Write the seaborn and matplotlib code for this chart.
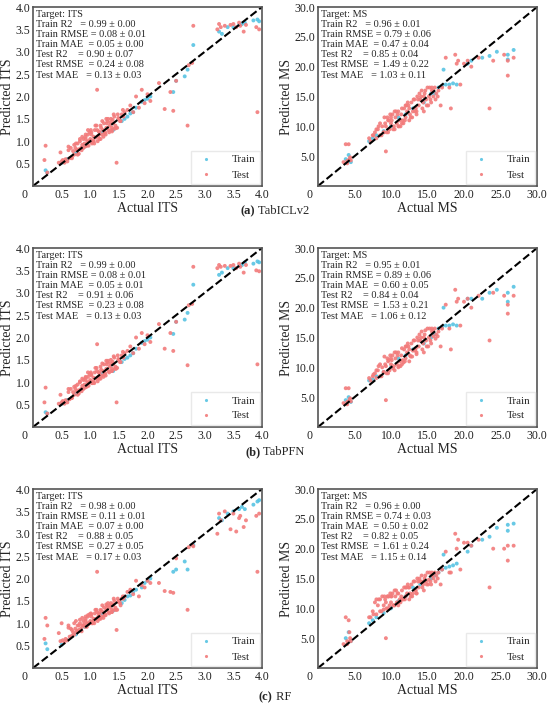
import numpy as np
import pandas as pd
import matplotlib
matplotlib.use("Agg")
import matplotlib.pyplot as plt
import seaborn as sns


# ---------------- data ----------------
models = ["TabICLv2", "TabPFN", "RF"]
letters = ["(a)", "(b)", "(c)"]
metric_names = ["Train R2", "Train RMSE", "Train MAE", "Test R2", "Test RMSE", "Test MAE"]

# metric mean / std per model and target
its_means = [[0.99, 0.08, 0.05, 0.90, 0.24, 0.13],
             [0.99, 0.08, 0.05, 0.91, 0.23, 0.13],
             [0.98, 0.11, 0.07, 0.88, 0.27, 0.17]]
its_stds = [[0.00, 0.01, 0.00, 0.07, 0.08, 0.03],
            [0.00, 0.01, 0.01, 0.06, 0.08, 0.03],
            [0.00, 0.01, 0.00, 0.05, 0.05, 0.03]]
ms_means = [[0.96, 0.79, 0.47, 0.85, 1.49, 1.03],
            [0.95, 0.89, 0.60, 0.84, 1.53, 1.06],
            [0.96, 0.74, 0.50, 0.82, 1.61, 1.15]]
ms_stds = [[0.01, 0.06, 0.04, 0.04, 0.22, 0.11],
           [0.01, 0.06, 0.05, 0.04, 0.21, 0.12],
           [0.00, 0.03, 0.02, 0.05, 0.24, 0.14]]

# ITS - test points
its_test_x = [0.20, 0.22, 0.25, 0.45, 0.48, 0.50, 0.52, 0.55, 0.57, 0.60, 0.62, 0.64, 0.66, 0.68,
              0.70, 0.72, 0.74, 0.76, 0.78, 0.80, 0.82, 0.84, 0.86, 0.88,
              0.90, 0.92, 0.94, 0.96, 0.98, 1.00, 1.02, 1.04, 1.06, 1.08,
              1.10, 1.12, 1.14, 1.16, 1.18, 1.20, 1.22, 1.24, 1.26, 1.28,
              1.30, 1.32, 1.34, 1.36, 1.38, 1.40, 1.42, 1.44, 1.46, 1.48,
              1.50, 1.52, 1.55, 1.58, 1.60, 0.85, 0.95, 1.05, 1.15, 1.25,
              1.35, 1.45, 0.92, 1.02, 1.12,
              1.65, 1.70, 1.75, 1.80, 1.85, 1.90, 1.95, 2.00, 2.05, 2.20, 2.30, 2.40, 2.45, 2.50, 2.70, 2.72, 2.78, 2.80,
              3.22, 3.25, 3.28, 3.35, 3.45, 3.50, 3.55, 3.60, 3.62, 3.68, 3.72, 3.90, 3.92, 3.95,
              0.62, 0.68, 0.72, 0.78, 0.82, 0.88, 0.92, 0.97, 1.01, 1.06,
              1.11, 1.16, 1.21, 1.27, 1.31, 1.37, 1.41, 1.47, 1.53, 1.57,
              0.75, 0.80, 0.86, 0.91, 0.99, 1.03, 1.09, 1.13, 1.19, 1.23,
              1.29, 1.33, 1.39, 1.43, 1.49, 0.96, 1.07, 1.18, 1.28, 1.38]
its_test_tabicl = [0.58, 0.90, 0.30, 0.52, 0.75, 0.55, 0.58, 0.52, 0.60, 0.55, 0.88, 0.62, 0.85, 0.65,
                   0.78, 0.70, 0.85, 0.80, 0.95, 0.82, 1.00, 0.85, 0.92, 1.05,
                   0.95, 1.10, 0.90, 1.15, 1.00, 1.05, 1.20, 0.98, 1.10, 1.25,
                   1.08, 2.15, 1.12, 1.20, 1.35, 1.15, 1.25, 1.40, 1.20, 1.30,
                   1.45, 1.25, 1.35, 1.50, 1.30, 1.40, 1.55, 1.35, 0.52, 1.60,
                   1.50, 1.45, 1.60, 1.55, 1.65, 0.80, 1.00, 1.02, 1.22, 1.18,
                   1.42, 1.30, 1.05, 1.15, 1.25,
                   1.70, 1.80, 1.65, 2.00, 1.75, 2.15, 1.85, 2.05, 1.90, 2.30, 1.72, 2.10, 1.68, 2.35, 1.35, 2.70, 2.75, 3.58,
                   3.50, 3.62, 3.55, 3.58, 3.60, 3.62, 3.55, 3.65, 3.58, 3.45, 3.60, 3.55, 1.65, 3.50,
                   0.80, 0.62, 0.92, 0.70, 1.05, 0.85, 1.15, 0.90, 1.25, 1.00,
                   1.35, 1.05, 1.45, 1.15, 1.50, 1.25, 1.60, 1.30, 1.45, 1.70,
                   0.95, 0.72, 1.10, 0.88, 1.20, 0.95, 1.35, 1.00, 1.30, 1.10,
                   1.40, 1.20, 1.48, 1.28, 1.52, 1.25, 0.95, 1.05, 1.50, 1.22]
its_test_tabpfn = [0.55, 0.88, 0.30, 0.52, 0.72, 0.55, 0.58, 0.52, 0.60, 0.55, 0.85, 0.62, 0.85, 0.65,
                   0.78, 0.72, 0.85, 0.80, 0.95, 0.82, 1.00, 0.85, 0.92, 1.05,
                   0.95, 1.10, 0.90, 1.12, 1.00, 1.05, 1.18, 0.98, 1.10, 1.22,
                   1.08, 1.85, 1.12, 1.20, 1.35, 1.15, 1.25, 1.40, 1.20, 1.30,
                   1.45, 1.25, 1.35, 1.50, 1.30, 1.40, 1.55, 1.35, 0.55, 1.60,
                   1.50, 1.45, 1.60, 1.55, 1.65, 0.80, 1.00, 1.02, 1.22, 1.18,
                   1.42, 1.30, 1.05, 1.15, 1.25,
                   1.70, 1.80, 1.65, 2.00, 1.75, 2.10, 1.85, 2.05, 1.90, 2.30, 1.75, 2.10, 1.70, 2.35, 1.38, 2.72, 2.75, 3.58,
                   3.55, 3.62, 3.58, 3.60, 3.60, 3.62, 3.55, 3.65, 3.58, 3.45, 3.62, 3.50, 1.40, 3.48,
                   0.78, 0.65, 0.90, 0.72, 1.02, 0.85, 1.12, 0.92, 1.22, 1.00,
                   1.32, 1.08, 1.42, 1.15, 1.48, 1.25, 1.58, 1.32, 1.45, 1.68,
                   0.92, 0.75, 1.08, 0.88, 1.18, 0.98, 1.32, 1.02, 1.28, 1.12,
                   1.40, 1.22, 1.46, 1.30, 1.52, 1.22, 0.98, 1.08, 1.48, 1.25]
its_test_rf = [0.65, 1.12, 0.95, 0.78, 0.60, 1.00, 0.62, 0.58, 0.65, 0.62, 0.90, 0.70, 0.88, 0.72,
               0.80, 0.75, 0.88, 0.82, 0.95, 0.85, 1.00, 0.88, 0.95, 1.05,
               0.98, 1.10, 0.92, 1.15, 1.00, 1.05, 1.20, 1.00, 1.10, 1.22,
               1.10, 2.15, 1.15, 1.20, 1.30, 1.15, 1.25, 1.35, 1.20, 1.30,
               1.40, 1.25, 1.35, 1.45, 1.30, 1.40, 1.50, 1.35, 0.85, 1.55,
               1.50, 1.45, 1.55, 1.55, 1.60, 0.82, 1.00, 1.05, 1.22, 1.18,
               1.40, 1.30, 1.05, 1.15, 1.25,
               1.70, 1.75, 1.65, 1.95, 1.60, 1.85, 1.80, 1.95, 1.90, 1.90, 1.72, 1.70, 1.68, 2.45, 1.30, 2.70, 2.75, 2.72,
               3.00, 3.45, 3.30, 3.50, 3.10, 3.45, 3.05, 3.35, 3.40, 3.15, 3.30, 3.40, 2.15, 3.45,
               0.95, 0.85, 1.00, 0.82, 1.08, 0.95, 1.15, 0.98, 1.22, 1.05,
               1.30, 1.10, 1.40, 1.18, 1.45, 1.25, 1.55, 1.30, 1.40, 1.60,
               1.05, 0.95, 1.12, 0.92, 1.20, 1.00, 1.30, 1.05, 1.28, 1.12,
               1.35, 1.22, 1.42, 1.30, 1.48, 1.18, 1.00, 1.10, 1.42, 1.25]

# ITS - train points
its_train_x = [0.22, 0.25, 0.50, 0.60, 0.75, 0.90, 1.00, 1.20, 1.40, 1.55, 1.60, 1.65, 1.70, 1.75, 1.80, 1.90, 1.95,
               2.00, 2.05, 2.45, 2.50, 2.65, 2.70, 2.80, 3.25, 3.30, 3.40, 3.50, 3.60, 3.65, 3.70, 3.85, 3.92, 3.95]
its_train_tabicl = [0.35, 0.30, 0.52, 0.60, 0.75, 0.90, 1.00, 1.20, 1.25, 1.45, 1.50, 1.55, 1.62, 1.65, 1.75, 1.88, 1.92,
                    1.95, 2.00, 2.10, 2.35, 2.45, 2.60, 3.15, 3.45, 3.40, 3.55, 3.55, 3.60, 3.62, 3.65, 3.70, 3.72, 3.68]
its_train_tabpfn = [0.33, 0.30, 0.52, 0.60, 0.75, 0.90, 1.00, 1.20, 1.25, 1.45, 1.52, 1.55, 1.60, 1.65, 1.75, 1.88, 1.92,
                    1.95, 2.00, 2.08, 2.35, 2.40, 2.55, 3.18, 3.40, 3.45, 3.55, 3.55, 3.60, 3.62, 3.68, 3.65, 3.70, 3.68]
its_train_rf = [0.55, 0.42, 0.52, 0.62, 0.75, 0.92, 1.02, 1.22, 1.28, 1.45, 1.52, 1.60, 1.62, 1.70, 1.75, 1.80, 1.90,
                1.95, 2.00, 2.15, 2.20, 2.38, 2.20, 2.75, 3.35, 3.30, 3.45, 3.50, 3.55, 3.60, 3.55, 3.65, 3.72, 3.75]

# MS - test points
ms_test_x = [3.5, 3.8, 4.0, 4.2, 4.3, 4.5, 4.0, 4.4,
             7.0, 7.2, 7.5, 7.8, 8.0, 8.2, 8.5, 8.8, 9.0, 9.2,
             9.4, 9.6, 9.8, 10.0, 10.2, 10.4, 10.6, 10.8, 11.0, 11.2,
             11.4, 11.6, 11.8, 12.0, 12.2, 12.4, 12.6, 12.8, 13.0, 13.2,
             13.4, 13.6, 13.8, 14.0, 14.2, 14.4, 14.6, 14.8, 15.0, 15.2,
             15.4, 15.6, 15.8, 16.0, 16.2, 16.5, 16.8, 17.0, 8.5, 9.5,
             10.5, 11.5, 12.5, 13.5, 14.5, 15.5, 9.0, 10.0, 11.0, 12.0,
             17.5, 18.0, 18.2, 18.8, 19.0, 19.2, 19.5, 20.0, 20.5, 21.0,
             22.0, 23.5, 24.0, 25.5, 26.0, 26.0, 26.8, 9.3,
             8.3, 8.7, 9.1, 9.6, 9.9, 10.3, 10.7, 11.1, 11.5, 11.9,
             12.3, 12.7, 13.1, 13.5, 13.9, 14.3, 14.7, 15.1, 15.6, 16.1,
             8.0, 9.3, 10.1, 10.9, 11.7, 12.5, 13.3, 14.1, 14.9, 15.7,
             9.7, 10.5, 11.3, 12.1, 12.9, 13.7, 14.5, 15.3, 16.4, 7.6]
ms_test_tabicl = [4.0, 7.0, 4.2, 7.0, 4.5, 4.3, 3.8, 4.8,
                  8.0, 7.5, 8.5, 9.0, 8.0, 9.5, 8.5, 10.0, 9.0, 10.5,
                  9.0, 11.0, 9.5, 10.5, 12.0, 10.0, 11.5, 10.5, 12.5, 11.0,
                  12.0, 11.0, 13.0, 11.5, 12.5, 13.5, 12.0, 14.0, 12.5, 14.5,
                  13.0, 15.0, 13.5, 14.5, 16.0, 14.0, 15.5, 14.5, 16.5, 15.0,
                  14.5, 16.0, 15.0, 16.5, 15.5, 16.0, 13.5, 16.5, 10.5, 11.5,
                  9.5, 10.5, 11.0, 12.5, 15.0, 14.0, 9.0, 11.5, 10.0, 13.5,
                  21.5, 16.5, 13.0, 22.0, 20.5, 21.0, 17.0, 20.5, 21.0, 20.0,
                  21.5, 13.0, 21.0, 22.0, 21.0, 18.5, 21.5, 5.8,
                  10.0, 8.5, 11.5, 9.0, 12.0, 9.5, 12.5, 10.0, 13.0, 11.0,
                  14.0, 11.5, 14.5, 12.0, 15.5, 13.0, 16.0, 13.5, 16.5, 14.5,
                  9.5, 10.0, 11.0, 12.0, 10.5, 13.0, 12.5, 15.0, 13.5, 16.0,
                  11.0, 12.5, 10.0, 13.5, 11.5, 14.5, 12.5, 16.5, 15.0, 8.5]
ms_test_tabpfn = [4.0, 6.5, 4.2, 6.5, 4.5, 4.3, 3.8, 4.8,
                  8.2, 7.8, 8.5, 9.0, 8.2, 9.5, 8.5, 10.0, 9.2, 10.5,
                  9.0, 11.0, 9.5, 10.5, 12.0, 10.2, 11.5, 10.5, 12.5, 11.0,
                  12.0, 11.2, 13.0, 11.5, 12.5, 13.5, 12.0, 14.0, 12.8, 14.5,
                  13.2, 15.0, 13.5, 14.5, 16.0, 14.0, 15.5, 14.5, 16.5, 15.0,
                  14.5, 16.0, 15.2, 16.5, 15.5, 16.0, 13.5, 16.5, 10.5, 11.5,
                  9.5, 10.5, 11.0, 12.5, 15.0, 14.0, 9.2, 11.5, 10.0, 13.5,
                  20.5, 16.5, 13.0, 23.0, 21.0, 21.5, 17.0, 21.0, 21.5, 20.0,
                  22.0, 14.5, 22.5, 22.0, 20.5, 19.0, 22.0, 4.5,
                  10.2, 8.5, 11.8, 9.0, 12.0, 9.8, 12.5, 10.2, 13.2, 11.0,
                  14.0, 11.8, 14.5, 12.2, 15.5, 13.0, 16.2, 13.5, 16.5, 14.8,
                  9.5, 10.2, 11.2, 12.0, 10.8, 13.0, 12.8, 15.0, 13.5, 16.2,
                  11.2, 12.5, 10.2, 13.5, 11.8, 14.5, 12.5, 16.5, 15.2, 8.8]
ms_test_rf = [4.0, 8.5, 4.5, 8.0, 6.0, 4.5, 4.0, 5.0,
              8.5, 8.5, 9.5, 11.0, 9.0, 10.5, 9.5, 12.0, 9.8, 11.5,
              10.0, 12.0, 10.5, 11.0, 12.5, 10.5, 12.0, 11.0, 12.5, 11.5,
              12.0, 11.5, 13.5, 12.0, 12.5, 13.5, 12.5, 14.0, 12.5, 14.5,
              13.0, 15.0, 13.5, 14.5, 15.5, 14.0, 15.0, 14.5, 16.0, 14.8,
              14.5, 15.5, 15.0, 16.0, 15.5, 16.0, 14.0, 16.5, 11.5, 12.0,
              10.5, 11.5, 11.5, 12.5, 14.5, 14.0, 10.5, 12.0, 10.5, 13.5,
              19.5, 16.0, 16.0, 22.5, 20.0, 21.5, 16.5, 21.0, 21.0, 20.5,
              21.5, 13.5, 20.0, 20.0, 18.0, 20.5, 20.5, 5.0,
              11.5, 9.5, 12.0, 10.0, 12.5, 10.5, 13.0, 11.0, 13.0, 11.5,
              14.0, 12.0, 14.5, 12.5, 15.0, 13.5, 15.5, 14.0, 16.0, 14.5,
              11.5, 11.0, 12.0, 12.5, 11.5, 13.5, 13.0, 14.5, 14.0, 15.5,
              12.0, 13.0, 11.0, 13.5, 12.0, 14.5, 13.0, 16.0, 15.0, 9.0]

# MS - train points
ms_train_x = [3.8, 4.2, 4.5, 7.0, 7.5, 8.0, 9.0, 10.0, 11.0, 12.0, 13.0, 14.0, 14.5, 15.5, 16.0,
              16.5, 17.0, 17.5, 18.0, 18.5, 19.0, 17.2, 20.5, 21.0, 22.5, 23.5, 24.5, 26.0, 26.0, 26.8]
ms_train_tabicl = [4.5, 5.2, 4.0, 7.5, 8.0, 8.5, 9.2, 10.0, 11.5, 12.0, 13.0, 14.5, 14.0, 15.5, 15.5,
                   16.5, 16.8, 17.0, 17.0, 17.2, 17.0, 19.5, 20.5, 21.0, 21.5, 21.8, 22.5, 22.0, 21.2, 22.8]
ms_train_tabpfn = [4.5, 5.0, 4.2, 7.8, 8.0, 8.5, 9.2, 10.0, 11.5, 12.0, 13.0, 14.5, 14.0, 15.0, 15.5,
                   16.5, 16.8, 17.0, 17.0, 17.2, 17.0, 20.0, 21.5, 21.5, 21.5, 22.5, 23.0, 22.5, 21.0, 23.5]
ms_train_rf = [5.0, 6.0, 4.5, 7.5, 8.0, 8.5, 9.2, 10.0, 11.2, 12.0, 13.5, 14.0, 14.5, 15.0, 15.5,
               16.0, 16.5, 16.8, 17.0, 17.2, 17.5, 19.0, 19.5, 20.5, 21.5, 22.0, 23.5, 23.0, 24.0, 24.2]

its_ticks = [0.5, 1.0, 1.5, 2.0, 2.5, 3.0, 3.5, 4.0]
ms_ticks = [5.0, 10.0, 15.0, 20.0, 25.0, 30.0]


def panel_frame(train_x, train_y, test_x, test_y):
    train = pd.DataFrame({"Actual": train_x, "Predicted": train_y, "Set": "Train"})
    test = pd.DataFrame({"Actual": test_x, "Predicted": test_y, "Set": "Test"})
    return pd.concat([train, test], ignore_index=True)


def stats_text(target, means, stds):
    lines = [f"Target: {target}"]
    for name, m, s in zip(metric_names, means, stds):
        lines.append(f"{name:<10} = {m:.2f} ± {s:.2f}")
    return "\n".join(lines)


sns.set_theme(style="white")
plt.rcParams["font.family"] = ["Liberation Serif", "DejaVu Serif"]

fig = plt.figure(figsize=(5.5, 7.22), dpi=100)
W, H = 550, 722

col_x = [(33, 262), (318, 537)]
row_y = [(7, 186), (248, 427), (489, 668)]
caption_y = [211, 452, 697]

palette = {"Train": "#57c3e3", "Test": "#f27b7b"}

its_test_preds = [its_test_tabicl, its_test_tabpfn, its_test_rf]
its_train_preds = [its_train_tabicl, its_train_tabpfn, its_train_rf]
ms_test_preds = [ms_test_tabicl, ms_test_tabpfn, ms_test_rf]
ms_train_preds = [ms_train_tabicl, ms_train_tabpfn, ms_train_rf]

for r in range(3):
    panels = [
        ("ITS", 4.0, its_ticks,
         panel_frame(its_train_x, its_train_preds[r], its_test_x, its_test_preds[r]),
         its_means[r], its_stds[r]),
        ("MS", 30.0, ms_ticks,
         panel_frame(ms_train_x, ms_train_preds[r], ms_test_x, ms_test_preds[r]),
         ms_means[r], ms_stds[r]),
    ]
    for c, (target, lim, ticks, df, means, stds) in enumerate(panels):
        x0, x1 = col_x[c]
        y0, y1 = row_y[r]
        ax = fig.add_axes([x0 / W, 1 - y1 / H, (x1 - x0) / W, (y1 - y0) / H])

        sns.scatterplot(data=df, x="Actual", y="Predicted", hue="Set",
                        hue_order=["Train", "Test"], palette=palette,
                        s=8, linewidth=0, alpha=0.9, ax=ax)
        ax.plot([0, lim], [0, lim], color="black", linestyle="--", linewidth=1.5)

        ax.set_xlim(0, lim)
        ax.set_ylim(0, lim)
        ax.set_xticks(ticks)
        ax.set_yticks(ticks)
        ax.set_xticklabels([f"{t:.1f}" for t in ticks])
        ax.set_yticklabels([f"{t:.1f}" for t in ticks])
        ax.tick_params(labelsize=8.5, pad=2, length=0, colors="#222222")
        ax.annotate("0", xy=(0, 0), xycoords="axes fraction", xytext=(-6, -2.5),
                    textcoords="offset points", ha="center", va="top", fontsize=8.5, color="#222222")
        ax.set_xlabel(f"Actual {target}", fontsize=10, labelpad=1)
        ax.set_ylabel(f"Predicted {target}", fontsize=10, labelpad=1)
        for sp in ax.spines.values():
            sp.set_color("#555555")
            sp.set_linewidth(1.2)

        ax.text(0.015, 0.982, stats_text(target, means, stds), transform=ax.transAxes,
                ha="left", va="top", fontsize=7.4, linespacing=1.15,
                bbox=dict(facecolor="white", edgecolor="none", alpha=0.8, pad=0.5))

        sns.move_legend(ax, "lower right", title=None, frameon=True, fontsize=7.8,
                        markerscale=0.8, handletextpad=1.4, borderpad=0.4,
                        labelspacing=0.5, borderaxespad=0.2, fancybox=False,
                        edgecolor="#e4e4e4")

    # caption: bold letter then model name, centred as a pair
    renderer = fig.canvas.get_renderer()
    t1 = fig.text(0, 1 - caption_y[r] / H, letters[r], fontsize=9, fontweight="bold",
                  ha="left", va="center")
    t2 = fig.text(0, 1 - caption_y[r] / H, " " + models[r], fontsize=9,
                  ha="left", va="center")
    w1 = t1.get_window_extent(renderer).width / W
    w2 = t2.get_window_extent(renderer).width / W
    start = 0.5 - (w1 + w2) / 2
    t1.set_x(start)
    t2.set_x(start + w1)

fig.savefig("out.png", dpi=100)
